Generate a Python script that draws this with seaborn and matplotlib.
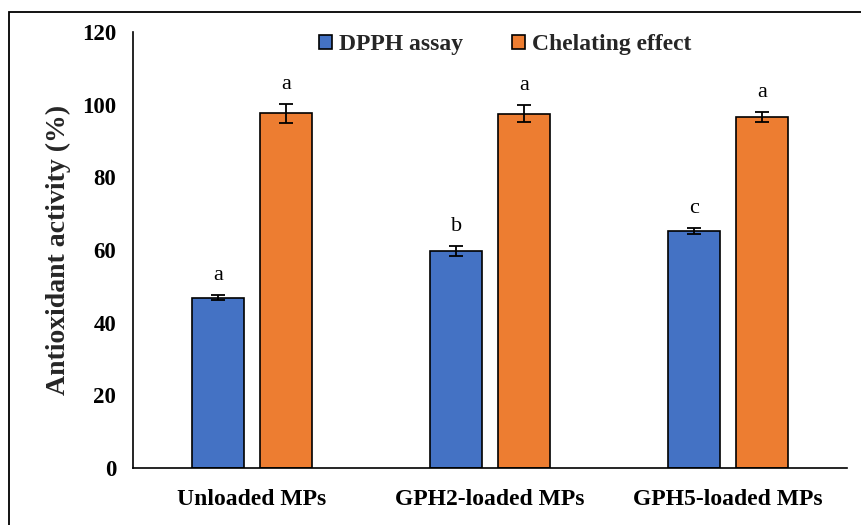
import pandas as pd
import seaborn as sns
import matplotlib.pyplot as plt
from matplotlib.patches import Rectangle, Patch

# --- data ---
categories = ['Unloaded MPs', 'GPH2-loaded MPs', 'GPH5-loaded MPs']
series = ['DPPH assay', 'Chelating effect']
dpph = [46.8, 59.7, 65.2]
dpph_err = [0.7, 1.3, 0.8]
chelating = [97.6, 97.5, 96.6]
chelating_err = [2.6, 2.4, 1.4]
dpph_letters = ['a', 'b', 'c']
chelating_letters = ['a', 'a', 'a']
y_ticks = [0, 20, 40, 60, 80, 100, 120]

colors = ['#4472C4', '#ED7D31']

df = pd.DataFrame({
    'category': categories * 2,
    'assay': [series[0]] * 3 + [series[1]] * 3,
    'value': dpph + chelating,
})

sns.set_theme(style="white")
plt.rcParams['font.family'] = ['Liberation Serif', 'DejaVu Serif']

fig = plt.figure(figsize=(8.62, 5.25), dpi=100)
ax = fig.add_axes([0.1543, 0.1086, 0.8283, 0.8305])

sns.barplot(data=df, x='category', y='value', hue='assay', order=categories,
            hue_order=series, palette=colors, saturation=1, width=0.57, gap=0.23,
            edgecolor='black', linewidth=1.2, errorbar=None, legend=False, ax=ax)

# error bars and significance letters on top of each bar
errs = {series[0]: dpph_err, series[1]: chelating_err}
letters = {series[0]: dpph_letters, series[1]: chelating_letters}
vals = {series[0]: dpph, series[1]: chelating}
for cont, s in zip(ax.containers, series):
    for i, bar in enumerate(cont):
        xc = bar.get_x() + bar.get_width() / 2
        ax.errorbar(xc, vals[s][i], yerr=errs[s][i], fmt='none', ecolor='black',
                    elinewidth=1.3, capsize=5, capthick=1.3)
        ax.text(xc, vals[s][i] + errs[s][i] + 2.8, letters[s][i], ha='center',
                va='bottom', fontsize=16, color='black')

ax.set_xlim(-0.5, 2.5)
ax.set_ylim(0, 120)
ax.set_yticks(y_ticks)
ax.set_yticklabels([str(t) for t in y_ticks], fontsize=16.5, fontweight='bold')

# Excel-style: tick marks between categories, labels at centers
ax.set_xticks([-0.5, 0.5, 1.5, 2.5])
ax.set_xticklabels([])
ax.set_xticks([0, 1, 2], minor=True)
ax.set_xticklabels(categories, minor=True, fontsize=17, fontweight='bold')
ax.tick_params(axis='x', which='major', direction='out', length=6, width=1.2, color='black')
ax.tick_params(axis='x', which='minor', length=0, pad=15)
ax.tick_params(axis='y', direction='out', length=5, width=1.2, color='black', pad=7)
ax.tick_params(colors='black', which='both')

ax.set_xlabel('')
ax.set_ylabel('Antioxidant activity (%)', fontsize=20, fontweight='bold', labelpad=8)

sns.despine(ax=ax)
for side in ['left', 'bottom']:
    ax.spines[side].set_color('black')
    ax.spines[side].set_linewidth(1.2)

handles = [Patch(facecolor=c, edgecolor='black', linewidth=1.2) for c in colors]
fig.legend(handles, series, loc='center', bbox_to_anchor=(0.586, 0.915), ncol=2,
           frameon=False, prop={'weight': 'bold', 'size': 17},
           handlelength=0.55, handleheight=0.55, handletextpad=0.3, columnspacing=2.1)

# outer frame (cut off at right and bottom in the reference)
fig.add_artist(Rectangle((9 / 862, -0.1), 1.2, 1 - 12 / 525 + 0.1,
                         transform=fig.transFigure, fill=False,
                         edgecolor='black', linewidth=1.3, clip_on=False))

fig.savefig('out.png', dpi=100)
